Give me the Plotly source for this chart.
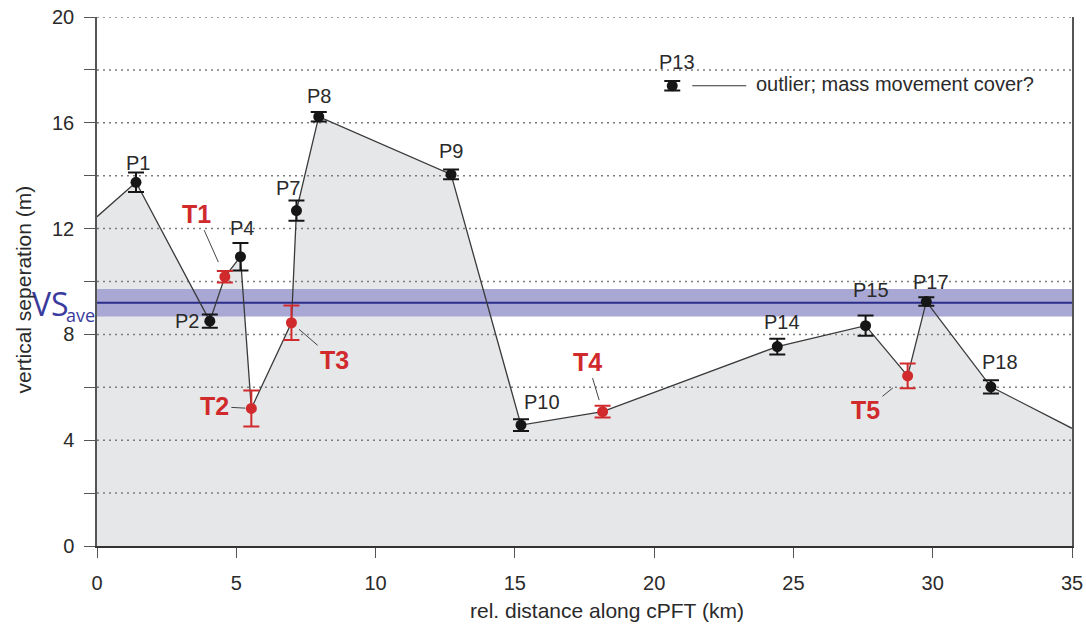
import plotly.graph_objects as go

# ---------------- data ----------------
p_names = ["P1", "P2", "P4", "P7", "P8", "P9", "P10", "P13", "P14", "P15", "P17", "P18"]
p_x = [1.40, 4.05, 5.15, 7.16, 7.96, 12.71, 15.22, 20.65, 24.42, 27.59, 29.77, 32.09]
p_y = [13.75, 8.50, 10.94, 12.68, 16.23, 14.05, 4.57, 17.40, 7.54, 8.33, 9.24, 6.02]
p_err = [0.37, 0.25, 0.52, 0.38, 0.18, 0.18, 0.22, 0.18, 0.30, 0.38, 0.16, 0.25]

t_names = ["T1", "T2", "T3", "T4", "T5"]
t_x = [4.59, 5.54, 6.98, 18.15, 29.10]
t_y = [10.18, 5.20, 8.44, 5.08, 6.43]
t_err = [0.22, 0.68, 0.65, 0.22, 0.47]

outlier_name = "P13"
outlier_note = "outlier; mass movement cover?"

profile_start_y = 12.45   # profile value at x = 0
profile_end_y = 4.45      # profile value at x = 35

vs_ave = 9.20
vs_lo = 8.68
vs_hi = 9.72

x_range = [0, 35]
y_range = [0, 20]
x_tickvals = [0, 5, 10, 15, 20, 25, 30, 35]
y_tickvals = [0, 2, 4, 6, 8, 10, 12, 14, 16, 18, 20]
y_ticktext = ["0", "", "4", "", "8", "", "12", "", "16", "", "20"]

x_title = "rel. distance along cPFT (km)"
y_title = "vertical seperation (m)"

# ---------------- derived ----------------
pts = [(x, y) for n, x, y in zip(p_names, p_x, p_y) if n != outlier_name]
pts += list(zip(t_x, t_y))
pts.sort()
prof_x = [x_range[0]] + [p[0] for p in pts] + [x_range[1]]
prof_y = [profile_start_y] + [p[1] for p in pts] + [profile_end_y]

grid_x, grid_y = [], []
for v in y_tickvals[1:]:
    grid_x += [x_range[0], x_range[1], None]
    grid_y += [v, v, None]

FONT = "Liberation Sans, Arial, Helvetica, sans-serif"
RED = "#d12a2c"
BLACK = "#161616"
TXT = "#2a2a2a"

fig = go.Figure()

# grey area under profile
fig.add_trace(go.Scatter(x=prof_x, y=prof_y, mode="lines", line=dict(width=0),
                         fill="tozeroy", fillcolor="#e6e7e9", hoverinfo="skip", showlegend=False))
# dotted grid drawn above the fill
fig.add_trace(go.Scatter(x=grid_x, y=grid_y, mode="lines",
                         line=dict(color="#7d7d7d", width=1.5, dash="2px,4px"),
                         hoverinfo="skip", showlegend=False))
# VS_ave band
fig.add_trace(go.Scatter(x=x_range, y=[vs_lo, vs_lo], mode="lines", line=dict(width=0),
                         hoverinfo="skip", showlegend=False))
fig.add_trace(go.Scatter(x=x_range, y=[vs_hi, vs_hi], mode="lines", line=dict(width=0),
                         fill="tonexty", fillcolor="#a9a8d4", hoverinfo="skip", showlegend=False))
fig.add_trace(go.Scatter(x=x_range, y=[vs_ave, vs_ave], mode="lines",
                         line=dict(color="#2d2d8c", width=2), hoverinfo="skip", showlegend=False))
# profile line
fig.add_trace(go.Scatter(x=prof_x, y=prof_y, mode="lines",
                         line=dict(color="#3a3a3a", width=1.3), hoverinfo="skip", showlegend=False))
# P points
fig.add_trace(go.Scatter(x=p_x, y=p_y, mode="markers", text=p_names,
                         marker=dict(color=BLACK, size=11),
                         error_y=dict(type="data", array=p_err, color=BLACK, thickness=2, width=8),
                         showlegend=False))
# T points
fig.add_trace(go.Scatter(x=t_x, y=t_y, mode="markers", text=t_names,
                         marker=dict(color=RED, size=11),
                         error_y=dict(type="data", array=t_err, color=RED, thickness=2, width=8),
                         showlegend=False))

# ---------------- labels ----------------
p_label_shift = {
    "P1": (2, 19, "center"), "P2": (-9, 0, "right"), "P4": (2, 29, "center"),
    "P7": (-8, 23, "center"), "P8": (0, 21, "center"), "P9": (0, 23, "center"),
    "P10": (21, 23, "center"), "P13": (5, 24, "center"), "P14": (5, 25, "center"),
    "P15": (5, 36, "center"), "P17": (5, 20, "center"), "P18": (9, 25, "center"),
}
ann = []
for n, x, y in zip(p_names, p_x, p_y):
    dx, dy, anc = p_label_shift[n]
    ann.append(dict(x=x, y=y, xref="x", yref="y", text=n, showarrow=False,
                    xanchor=anc, yanchor="middle", xshift=dx, yshift=dy,
                    font=dict(family=FONT, size=20, color=TXT)))

t_label_off = {"T1": (-28, -63, 16), "T2": (-37, -2, 6), "T3": (43, 37, 10),
               "T4": (-15, -50, 12), "T5": (-42, 34, 19)}
for n, x, y in zip(t_names, t_x, t_y):
    ax, ay, so = t_label_off[n]
    ann.append(dict(x=x, y=y, xref="x", yref="y", text="<b>%s</b>" % n, showarrow=True,
                    arrowhead=0, arrowwidth=1, arrowcolor="#444", ax=ax, ay=ay,
                    standoff=so, startstandoff=1,
                    font=dict(family=FONT, size=25, color=RED)))

# outlier note
i13 = p_names.index(outlier_name)
ann.append(dict(x=p_x[i13], y=p_y[i13], xref="x", yref="y", text=outlier_note,
                showarrow=False, xanchor="left", yanchor="middle", xshift=82, yshift=2,
                font=dict(family=FONT, size=20, color=TXT)))

# VS_ave label
ann.append(dict(x=0, y=vs_ave, xref="paper", yref="y", text="VS", showarrow=False,
                xanchor="right", yanchor="middle", xshift=-26, yshift=-1,
                font=dict(family="Open Sans, sans-serif", size=32, color="#3b3b9e")))
ann.append(dict(x=0, y=vs_ave, xref="paper", yref="y", text="ave", showarrow=False,
                xanchor="right", yanchor="middle", xshift=0, yshift=-12,
                font=dict(family="Open Sans, sans-serif", size=18, color="#3b3b9e")))

# axis titles placed as text relative to the plot area
ann.append(dict(x=0, y=0.5, xref="paper", yref="paper", text=y_title, showarrow=False,
                textangle=-90, xanchor="center", yanchor="middle", xshift=-74, yshift=-8,
                font=dict(family=FONT, size=21, color=TXT)))
ann.append(dict(x=0.5, y=0, xref="paper", yref="paper", text=x_title, showarrow=False,
                xanchor="center", yanchor="middle", xshift=22, yshift=-64,
                font=dict(family=FONT, size=21, color=TXT)))

shapes = [dict(type="line", xref="x", yref="y", xsizemode="pixel", xanchor=p_x[i13],
               x0=20, x1=74, y0=p_y[i13], y1=p_y[i13],
               line=dict(color="#333", width=1.2))]

fig.update_layout(
    width=1086, height=625,
    margin=dict(l=97, r=14, t=17, b=79, autoexpand=False),
    paper_bgcolor="white", plot_bgcolor="white",
    annotations=ann, shapes=shapes,
    font=dict(family=FONT, color=TXT),
    xaxis=dict(range=x_range, tickvals=x_tickvals, showgrid=False, zeroline=False,
               showline=True, linecolor="#333", linewidth=2, mirror=False, automargin=False,
               ticks="outside", ticklen=10, tickwidth=1.3, tickcolor="#555",
               tickfont=dict(family=FONT, size=20, color=TXT), ticklabelstandoff=8,
               ticklabeloverflow="allow"),
    yaxis=dict(range=y_range, tickvals=y_tickvals, ticktext=y_ticktext, showgrid=False,
               zeroline=False, showline=True, linecolor="#555", linewidth=1.5, mirror=True,
               automargin=False, ticklabeloverflow="allow",
               ticks="outside", ticklen=11, tickwidth=1.3, tickcolor="#555",
               tickfont=dict(family=FONT, size=20, color=TXT), ticklabelstandoff=6),
)

# remove the default page margin so the 1086x625 figure fills the window exactly
fig.write_html("out.html", config={"displayModeBar": False},
               post_script="document.body.style.margin='0';document.body.style.overflow='hidden';")
